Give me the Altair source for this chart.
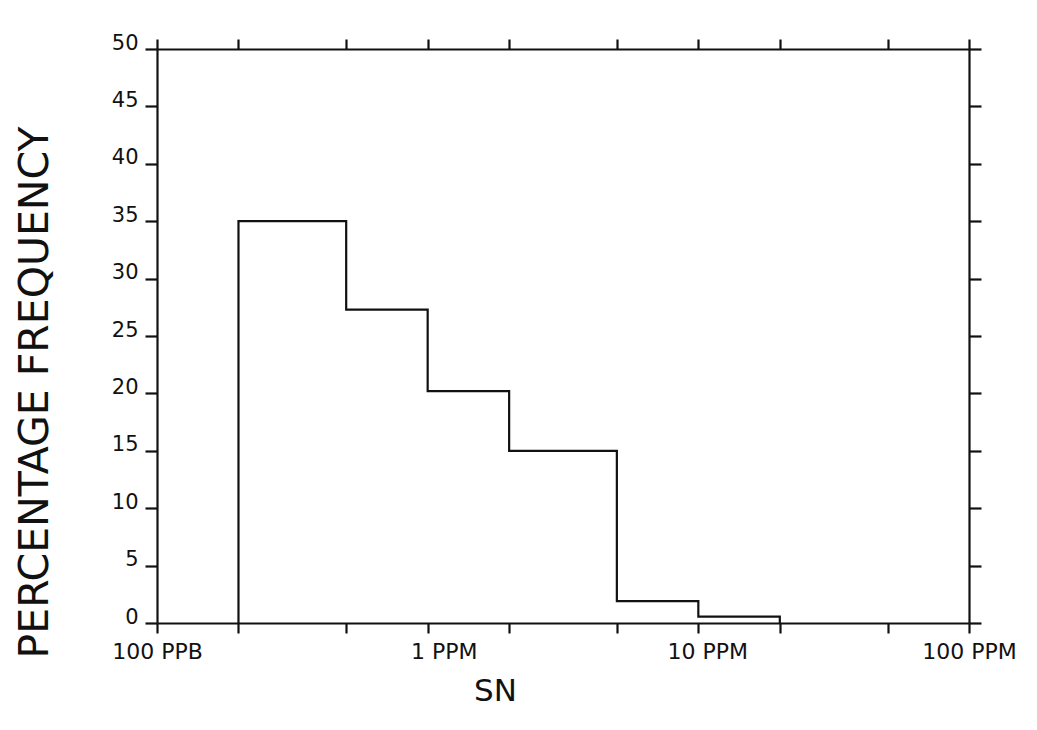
import altair as alt
import pandas as pd

# Bin edges (ppm) and percentage frequency per bin
bin_edges = [0.2, 0.5, 1, 2, 5, 10, 20]
percent = [35.0, 27.3, 20.2, 15.0, 1.9, 0.55]

x_ticks = [0.1, 0.2, 0.5, 1, 2, 5, 10, 20, 50, 100]
x_tick_labels = {0.1: "100 PPB", 1: "1 PPM", 10: "10 PPM", 100: "100 PPM"}
x_label_shift = {0.1: 0, 1: 16, 10: 9, 100: 0}
y_ticks = list(range(0, 55, 5))

# step outline points
xs = [bin_edges[0]] + bin_edges[:-1] + [bin_edges[-1]]
ys = [0.0] + percent + [0.0]
df = pd.DataFrame({"x": xs, "y": ys, "i": list(range(len(xs)))})

label_expr = " : ".join(
    f"abs(datum.value - {k}) < 1e-9 ? '{v}'" for k, v in x_tick_labels.items()
) + " : ''"
offset_cond = {
    "condition": [
        {"test": f"abs(datum.value - {k}) < 1e-9", "value": v}
        for k, v in x_label_shift.items() if v
    ],
    "value": 0,
}

FONT = "DejaVu Sans"
INK = "#111111"

xscale = alt.Scale(type="log", domain=[0.1, 100], nice=False)
yscale = alt.Scale(domain=[0, 50], nice=False, zero=True)

common_axis = dict(
    domainColor=INK, domainWidth=2.2, tickColor=INK, tickWidth=2.2,
    grid=False, labelColor=INK, titleColor=INK,
    labelFont=FONT, titleFont=FONT, titleFontWeight="normal",
)

base = alt.Chart(df)

line = base.mark_line(interpolate="step-after", color=INK, strokeWidth=2.2).encode(
    x=alt.X("x:Q", scale=xscale,
            axis=alt.Axis(orient="bottom", values=x_ticks, labelExpr=label_expr,
                          tickSize=10, labelFontSize=22, labelPadding=8,
                          labelBaseline="top", labelAlign="center",
                          labelOffset=offset_cond, labelOverlap=False,
                          labelFlush=False,
                          title="SN", titleFontSize=31, titleX=338, titleY=68,
                          titleAlign="center", titleBaseline="middle",
                          **common_axis)),
    y=alt.Y("y:Q", scale=yscale,
            axis=alt.Axis(orient="left", values=y_ticks, tickSize=12,
                          labelFontSize=21, labelPadding=7,
                          labelBaseline="alphabetic", labelFlush=False,
                          title="PERCENTAGE FREQUENCY", titleFontSize=41,
                          titleAngle=270, titleX=-122, titleY=343,
                          titleAlign="center", titleBaseline="middle",
                          **common_axis)),
    order="i:Q",
)

frame = base.mark_line(opacity=0).encode(
    x=alt.X("x:Q", scale=xscale,
            axis=alt.Axis(orient="top", values=x_ticks, tickSize=10,
                          labels=False, title=None, **common_axis)),
    y=alt.Y("y:Q", scale=yscale,
            axis=alt.Axis(orient="right", values=y_ticks, tickSize=12,
                          labels=False, title=None, **common_axis)),
    order="i:Q",
)

chart = (
    alt.layer(line, frame)
    .resolve_axis(x="independent", y="independent")
    .properties(
        width=812, height=574,
        autosize=alt.AutoSizeParams(type="none"),
        padding={"left": 149, "top": 41, "right": 55, "bottom": 90},
        background="white",
    )
    .configure_view(stroke=None)
)

chart.save("out.html", embed_options={"renderer": "svg", "actions": False})
